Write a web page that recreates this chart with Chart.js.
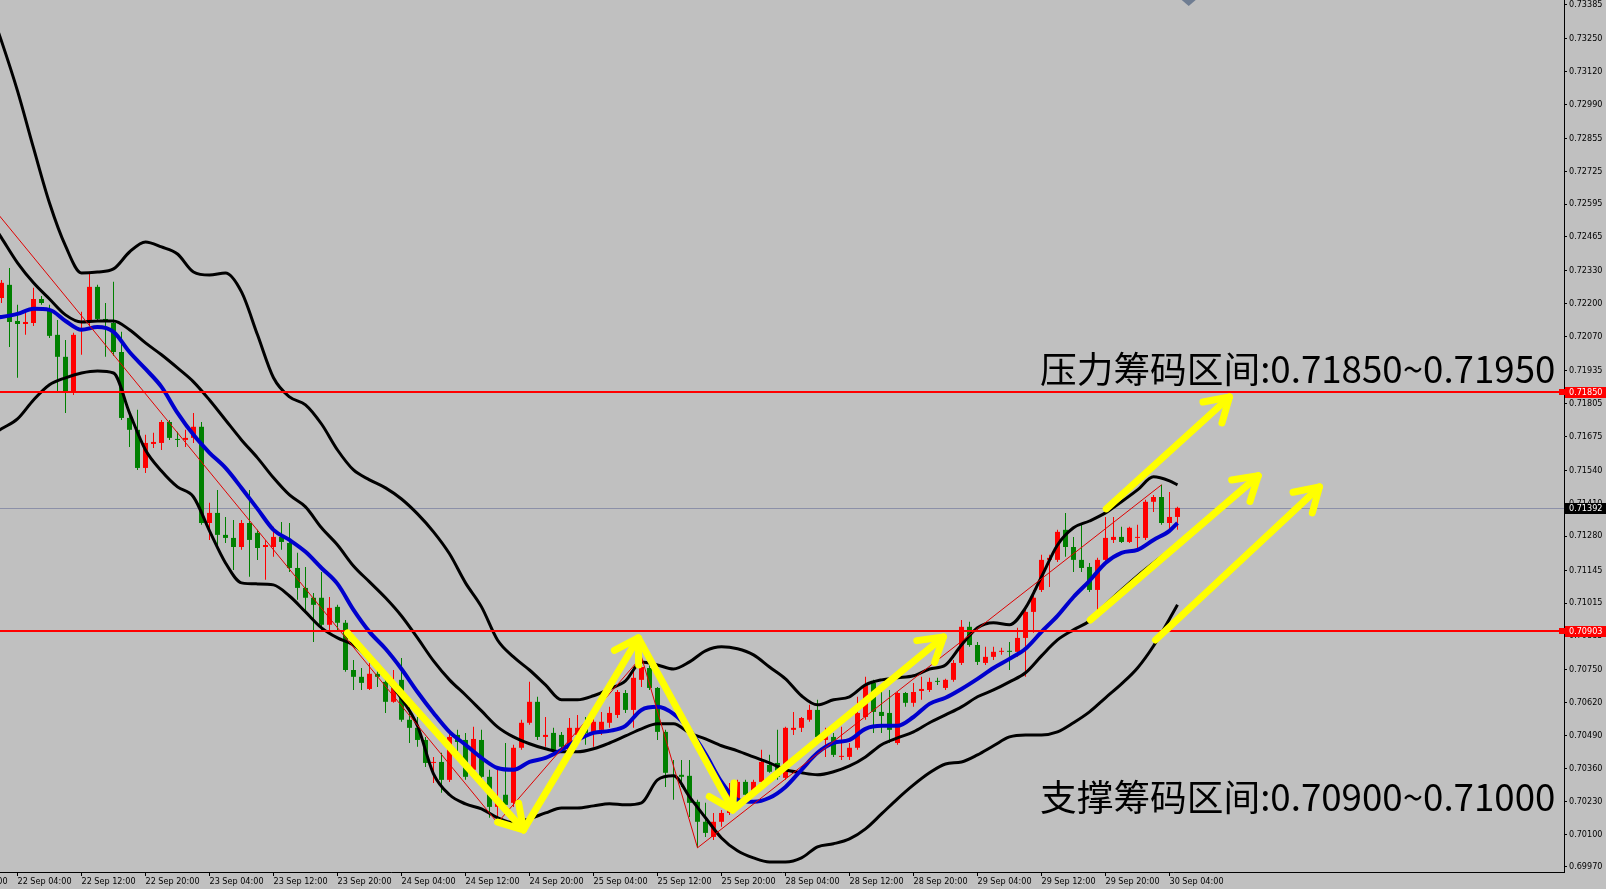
<!DOCTYPE html>
<html><head><meta charset="utf-8">
<script src="https://cdn.jsdelivr.net/npm/chart.js@4.4.0/dist/chart.umd.min.js"></script>
<style>
html,body{margin:0;padding:0;background:#c0c0c0;overflow:hidden;}
#wrap{position:relative;width:1606px;height:889px;}
canvas{position:absolute;left:0;top:0;}
.note{position:absolute;left:1040px;font-family:'Noto Sans CJK SC',sans-serif;font-size:36.7px;line-height:36.7px;color:#000;white-space:nowrap;}
</style></head>
<body><div id="wrap"><canvas id="c" width="1606" height="889"></canvas>
<div class="note" style="top:349px">压力筹码区间:0.71850~0.71950</div>
<div class="note" style="top:777px">支撑筹码区间:0.70900~0.71000</div>
</div>
<script>
// hourly bar index: 0 = 22 Sep 00:00 (weekend skipped)
const FIRST_BAR = 2;
const opens = [
0.72223,0.72275,0.72132,0.72120,0.72124,0.72219,0.72176,0.72077,0.71990,0.71847,
0.72093,0.72128,0.72267,0.72140,0.72124,0.72009,0.71748,0.71701,0.71550,0.71645,
0.71649,0.71732,0.71665,0.71661,0.71669,0.71713,0.71332,0.71372,0.71285,0.71273,
0.71237,0.71332,0.71293,0.71237,0.71237,0.71277,0.71253,0.71154,0.71075,0.71036,
0.71036,0.70929,0.71000,0.70937,0.70750,0.70723,0.70675,0.70735,0.70703,0.70624,
0.70711,0.70553,0.70521,0.70473,0.70382,0.70386,0.70315,0.70493,0.70473,0.70355,
0.70473,0.70327,0.70208,0.70256,0.70224,0.70442,0.70541,0.70624,0.70485,0.70501,
0.70493,0.70426,0.70493,0.70533,0.70505,0.70513,0.70541,0.70572,0.70659,0.70592,
0.70711,0.70758,0.70679,0.70505,0.70335,0.70335,0.70331,0.70228,0.70149,0.70089,
0.70149,0.70184,0.70236,0.70307,0.70267,0.70307,0.70374,0.70382,0.70323,0.70513,
0.70521,0.70553,0.70592,0.70473,0.70485,0.70406,0.70406,0.70442,0.70564,0.70699,
0.70584,0.70580,0.70461,0.70659,0.70620,0.70667,0.70671,0.70707,0.70679,0.70711,
0.70778,0.70921,0.70849,0.70778,0.70802,0.70822,0.70826,0.70822,0.70877,0.70980,
0.71067,0.71186,0.71186,0.71305,0.71237,0.71186,0.71158,0.71067,0.71186,0.71265,
0.71277,0.71257,0.71273,0.71273,0.71416,0.71435,0.71332,0.71356];
const highs = [
0.72294,0.72342,0.72196,0.72176,0.72263,0.72231,0.72196,0.72136,0.72057,0.72085,
0.72168,0.72326,0.72275,0.72203,0.72287,0.72089,0.71780,0.71780,0.71681,0.71689,
0.71740,0.71740,0.71693,0.71701,0.71768,0.71732,0.71412,0.71463,0.71356,0.71344,
0.71344,0.71463,0.71305,0.71265,0.71317,0.71336,0.71332,0.71214,0.71158,0.71055,
0.71138,0.71039,0.71008,0.70948,0.70790,0.70758,0.70778,0.70758,0.70731,0.70750,
0.70798,0.70620,0.70564,0.70485,0.70406,0.70422,0.70501,0.70513,0.70501,0.70525,
0.70513,0.70355,0.70355,0.70461,0.70454,0.70553,0.70703,0.70644,0.70564,0.70521,
0.70505,0.70560,0.70572,0.70564,0.70592,0.70584,0.70604,0.70671,0.70671,0.70762,
0.70802,0.70790,0.70683,0.70513,0.70394,0.70394,0.70394,0.70236,0.70224,0.70184,
0.70196,0.70303,0.70315,0.70315,0.70315,0.70434,0.70414,0.70513,0.70525,0.70584,
0.70564,0.70612,0.70632,0.70521,0.70501,0.70525,0.70461,0.70644,0.70723,0.70711,
0.70683,0.70671,0.70663,0.70663,0.70699,0.70723,0.70719,0.70719,0.70715,0.70790,
0.70948,0.70941,0.70861,0.70842,0.70842,0.70838,0.70861,0.70917,0.70996,0.71067,
0.71206,0.71206,0.71305,0.71372,0.71277,0.71325,0.71174,0.71194,0.71356,0.71356,
0.71317,0.71317,0.71325,0.71424,0.71443,0.71483,0.71455,0.71396];
const lows = [
0.72203,0.72029,0.71907,0.72077,0.72112,0.72196,0.72065,0.71851,0.71768,0.71839,
0.71998,0.72112,0.72136,0.71990,0.71994,0.71740,0.71633,0.71542,0.71530,0.71629,
0.71621,0.71661,0.71633,0.71633,0.71649,0.71325,0.71265,0.71237,0.71253,0.71146,
0.71226,0.71119,0.71186,0.71107,0.71198,0.71226,0.71138,0.71028,0.70988,0.70861,
0.70901,0.70901,0.70901,0.70743,0.70671,0.70671,0.70671,0.70683,0.70580,0.70620,
0.70545,0.70461,0.70446,0.70366,0.70303,0.70264,0.70307,0.70422,0.70315,0.70347,
0.70315,0.70165,0.70145,0.70188,0.70208,0.70434,0.70533,0.70473,0.70446,0.70422,
0.70434,0.70426,0.70473,0.70454,0.70446,0.70493,0.70521,0.70560,0.70580,0.70521,
0.70683,0.70671,0.70473,0.70287,0.70236,0.70287,0.70168,0.70046,0.70089,0.70077,
0.70129,0.70176,0.70224,0.70248,0.70256,0.70303,0.70343,0.70315,0.70315,0.70493,
0.70505,0.70545,0.70473,0.70406,0.70406,0.70394,0.70394,0.70434,0.70553,0.70501,
0.70501,0.70461,0.70454,0.70604,0.70604,0.70632,0.70663,0.70691,0.70671,0.70703,
0.70770,0.70842,0.70770,0.70770,0.70790,0.70810,0.70750,0.70802,0.70723,0.70897,
0.71059,0.71079,0.71178,0.71198,0.71138,0.71138,0.71059,0.70988,0.71178,0.71253,
0.71253,0.71253,0.71226,0.71265,0.71376,0.71325,0.71305,0.71305];
const closes = [
0.72283,0.72128,0.72120,0.72128,0.72219,0.72203,0.72073,0.71990,0.71851,0.72077,
0.72104,0.72267,0.72140,0.72128,0.72009,0.71748,0.71701,0.71550,0.71649,0.71653,
0.71732,0.71669,0.71661,0.71669,0.71713,0.71332,0.71372,0.71285,0.71273,0.71237,
0.71332,0.71265,0.71233,0.71245,0.71277,0.71257,0.71154,0.71075,0.71036,0.71008,
0.70929,0.70996,0.70937,0.70750,0.70723,0.70699,0.70735,0.70723,0.70624,0.70679,
0.70553,0.70521,0.70473,0.70382,0.70386,0.70315,0.70485,0.70465,0.70327,0.70477,
0.70327,0.70208,0.70228,0.70216,0.70442,0.70541,0.70624,0.70485,0.70493,0.70434,
0.70446,0.70521,0.70521,0.70501,0.70545,0.70545,0.70580,0.70663,0.70592,0.70719,
0.70762,0.70679,0.70505,0.70343,0.70327,0.70327,0.70224,0.70149,0.70105,0.70149,
0.70184,0.70264,0.70307,0.70256,0.70307,0.70386,0.70347,0.70327,0.70521,0.70521,
0.70560,0.70592,0.70485,0.70501,0.70414,0.70410,0.70442,0.70580,0.70691,0.70584,
0.70568,0.70513,0.70659,0.70620,0.70663,0.70675,0.70703,0.70703,0.70711,0.70778,
0.70921,0.70849,0.70782,0.70802,0.70822,0.70826,0.70822,0.70877,0.70980,0.71036,
0.71186,0.71194,0.71297,0.71237,0.71186,0.71154,0.71067,0.71186,0.71273,0.71277,
0.71257,0.71313,0.71277,0.71416,0.71435,0.71332,0.71356,0.71392];

const lineIdx = [1,2,4,6,8,10,12,14,16,18,20,22,24,26,28,30,32,34,36,38,40,42,44,46,48,50,52,54,56,58,60,62,64,66,68,70,72,74,76,78,80,82,84,86,88,90,92,94,96,98,100,102,104,106,108,110,112,114,116,118,120,122,124,126,128,130,132,134,136,138,140,142,144,146,148,149];
const bbUpper = [0.73330,0.73240,0.73043,0.72817,0.72599,0.72429,0.72322,0.72326,0.72338,0.72405,0.72445,0.72425,0.72397,0.72326,0.72314,0.72322,0.72247,0.72077,0.71907,0.71831,0.71800,0.71724,0.71621,0.71542,0.71503,0.71471,0.71427,0.71368,0.71297,0.71210,0.71095,0.71000,0.70869,0.70802,0.70750,0.70691,0.70632,0.70632,0.70648,0.70675,0.70707,0.70782,0.70770,0.70754,0.70782,0.70826,0.70842,0.70834,0.70810,0.70762,0.70715,0.70648,0.70612,0.70632,0.70644,0.70691,0.70711,0.70719,0.70727,0.70754,0.70770,0.70849,0.70917,0.70937,0.70929,0.70996,0.71119,0.71245,0.71313,0.71340,0.71372,0.71416,0.71463,0.71515,0.71499,0.71483];
const bbMiddle = [0.72510,0.72461,0.72362,0.72283,0.72219,0.72156,0.72128,0.72132,0.72132,0.72097,0.72045,0.71998,0.71946,0.71891,0.71819,0.71740,0.71661,0.71590,0.71511,0.71443,0.71396,0.71313,0.71245,0.71162,0.71099,0.71036,0.70964,0.70877,0.70786,0.70711,0.70651,0.70588,0.70525,0.70485,0.70458,0.70438,0.70426,0.70426,0.70438,0.70461,0.70489,0.70517,0.70537,0.70537,0.70501,0.70477,0.70450,0.70430,0.70406,0.70382,0.70355,0.70343,0.70335,0.70347,0.70370,0.70406,0.70454,0.70481,0.70505,0.70541,0.70572,0.70604,0.70644,0.70671,0.70703,0.70739,0.70806,0.70869,0.70909,0.70944,0.71008,0.71067,0.71123,0.71174,0.71222,0.71245];
const bbLower = [0.71685,0.71705,0.71744,0.71819,0.71879,0.71907,0.71926,0.71934,0.71926,0.71768,0.71621,0.71538,0.71475,0.71435,0.71301,0.71174,0.71095,0.71091,0.71087,0.71043,0.70980,0.70917,0.70877,0.70849,0.70794,0.70719,0.70636,0.70529,0.70339,0.70256,0.70220,0.70200,0.70165,0.70145,0.70161,0.70184,0.70204,0.70204,0.70212,0.70220,0.70216,0.70224,0.70315,0.70331,0.70248,0.70165,0.70085,0.70034,0.70006,0.69990,0.69990,0.70006,0.70050,0.70062,0.70081,0.70121,0.70180,0.70240,0.70295,0.70343,0.70378,0.70386,0.70414,0.70450,0.70485,0.70493,0.70493,0.70505,0.70541,0.70584,0.70640,0.70695,0.70758,0.70845,0.70952,0.71008];
const maBlue = [0.72144,0.72148,0.72160,0.72180,0.72176,0.72132,0.72097,0.72108,0.72089,0.72009,0.71942,0.71871,0.71768,0.71681,0.71610,0.71550,0.71471,0.71388,0.71305,0.71265,0.71218,0.71154,0.71091,0.70988,0.70901,0.70834,0.70754,0.70663,0.70580,0.70505,0.70454,0.70402,0.70362,0.70355,0.70386,0.70402,0.70434,0.70473,0.70501,0.70509,0.70529,0.70592,0.70604,0.70576,0.70513,0.70418,0.70307,0.70236,0.70228,0.70244,0.70287,0.70355,0.70422,0.70461,0.70473,0.70517,0.70529,0.70529,0.70564,0.70616,0.70640,0.70675,0.70715,0.70758,0.70794,0.70834,0.70901,0.70964,0.71039,0.71103,0.71174,0.71214,0.71226,0.71265,0.71301,0.71332];

const zigzagIdx = [-4, 64, 82, 89, 147];
const zigzagVal = [0.72770, 0.70145, 0.70802, 0.70046, 0.71483];

const xTickIdx = [-4,4,12,20,28,36,44,52,60,68,76,84,92,100,108,116,124,132,140,148];
const xTickLabels = ['21 Sep 20:00','22 Sep 04:00','22 Sep 12:00','22 Sep 20:00','23 Sep 04:00','23 Sep 12:00','23 Sep 20:00','24 Sep 04:00','24 Sep 12:00','24 Sep 20:00','25 Sep 04:00','25 Sep 12:00','25 Sep 20:00','28 Sep 04:00','28 Sep 12:00','28 Sep 20:00','29 Sep 04:00','29 Sep 12:00','29 Sep 20:00','30 Sep 04:00'];
const yTickLabels = ['0.73385','0.73250','0.73120','0.72990','0.72855','0.72725','0.72595','0.72465','0.72330','0.72200','0.72070','0.71935','0.71805','0.71675','0.71540','0.71410','0.71280','0.71145','0.71015','0.70885','0.70750','0.70620','0.70490','0.70360','0.70230','0.70100','0.69970'];

const redLevels = [0.71850, 0.70903];
const bidLevel = 0.71392;
const priceBoxVals = [0.71850, 0.70903, 0.71392];
const priceBoxColors = ['#ff0000', '#ff0000', '#000000'];

const arrowFromIdx = [45.25, 67.25, 81.6, 93.4, 140.1, 138.1, 146.25];
const arrowFromVal = [0.70897, 0.70117, 0.70877, 0.70196, 0.71388, 0.70948, 0.70869];
const arrowToIdx   = [67.25, 81.6, 93.4, 119.75, 155.5, 159.1, 166.75];
const arrowToVal   = [0.70117, 0.70877, 0.70196, 0.70881, 0.71831, 0.71519, 0.71475];

const markerIdx = 150.4;

const X_MIN = 1.8125, X_MAX = 197.3125;
const Y_MIN = 0.699502, Y_MAX = 0.734028;

const FONT = {family: "'DejaVu Sans Condensed','DejaVu Sans',sans-serif", size: 9};

const barX = opens.map((_, k) => FIRST_BAR + k);
const candleColors = closes.map((c, k) => c >= opens[k] ? '#ff0000' : '#008000');
const pts = arr => lineIdx.map((x, k) => ({x, y: arr[k]}));

const overlay = {
  id: 'overlay',
  beforeDraw(chart) {
    const c = chart.ctx; c.save(); c.fillStyle = '#c0c0c0'; c.fillRect(0, 0, chart.width, chart.height); c.restore();
  },
  beforeDatasetsDraw(chart) {
    const {ctx, chartArea: a, scales: {y}} = chart;
    ctx.save();
    const yb = Math.round(y.getPixelForValue(bidLevel)) + 0.5;
    ctx.strokeStyle = '#8c90a8'; ctx.lineWidth = 1;
    ctx.beginPath(); ctx.moveTo(a.left, yb); ctx.lineTo(a.right, yb); ctx.stroke();
    ctx.restore();
  },
  afterDatasetsDraw(chart) {
    const {ctx, chartArea: a, scales: {x, y}} = chart;
    ctx.save();
    ctx.beginPath(); ctx.rect(a.left, a.top, a.right - a.left, a.bottom - a.top); ctx.clip();
    ctx.strokeStyle = '#ff0000'; ctx.lineWidth = 2;
    redLevels.forEach(v => {
      const yy = Math.round(y.getPixelForValue(v));
      ctx.beginPath(); ctx.moveTo(a.left, yy); ctx.lineTo(a.right, yy); ctx.stroke();
    });
    ctx.strokeStyle = '#ffff00'; ctx.lineWidth = 7; ctx.lineCap = 'round'; ctx.lineJoin = 'round';
    for (let k = 0; k < arrowFromIdx.length; k++) {
      const x0 = x.getPixelForValue(arrowFromIdx[k]), y0 = y.getPixelForValue(arrowFromVal[k]);
      const x1 = x.getPixelForValue(arrowToIdx[k]), y1 = y.getPixelForValue(arrowToVal[k]);
      ctx.beginPath(); ctx.moveTo(x0, y0); ctx.lineTo(x1, y1); ctx.stroke();
      const ang = Math.atan2(y1 - y0, x1 - x0), L = 27, sp = 0.55;
      ctx.beginPath();
      ctx.moveTo(x1 - L * Math.cos(ang - sp), y1 - L * Math.sin(ang - sp));
      ctx.lineTo(x1, y1);
      ctx.lineTo(x1 - L * Math.cos(ang + sp), y1 - L * Math.sin(ang + sp));
      ctx.stroke();
    }
    // small grey object marker at the top edge
    const mx = x.getPixelForValue(markerIdx);
    ctx.fillStyle = '#6f7d92';
    ctx.beginPath(); ctx.moveTo(mx - 7, a.top); ctx.lineTo(mx + 7, a.top); ctx.lineTo(mx, a.top + 6); ctx.closePath(); ctx.fill();
    ctx.restore();
  },
  afterDraw(chart) {
    const {ctx, chartArea: a, scales: {y}} = chart;
    ctx.save();
    ctx.font = "9px 'DejaVu Sans Condensed','DejaVu Sans',sans-serif";
    ctx.textBaseline = 'middle'; ctx.textAlign = 'left';
    priceBoxVals.forEach((v, k) => {
      const yy = Math.round(y.getPixelForValue(v));
      ctx.fillStyle = priceBoxColors[k];
      ctx.fillRect(a.right + 1, yy - 5, chart.width - a.right - 1, 11);
      if (k < 2) ctx.fillRect(a.right - 5, yy - 3, 6, 6);
      ctx.fillStyle = '#ffffff';
      ctx.fillText(v.toFixed(5), a.right + 5, yy + 0.5);
    });
    ctx.restore();
  }
};

new Chart(document.getElementById('c'), {
  type: 'bar',
  data: {
    datasets: [
      {type: 'line', label: 'ZigZag', data: zigzagIdx.map((x, k) => ({x, y: zigzagVal[k]})), borderColor: '#e00000', borderWidth: 1, pointRadius: 0, tension: 0, order: 0},
      {type: 'line', label: 'MA', data: pts(maBlue), borderColor: '#0000cd', borderWidth: 4, pointRadius: 0, cubicInterpolationMode: 'monotone', order: 1},
      {type: 'line', label: 'BB upper', data: pts(bbUpper), borderColor: '#000', borderWidth: 3, pointRadius: 0, cubicInterpolationMode: 'monotone', order: 2},
      {type: 'line', label: 'BB middle', data: pts(bbMiddle), borderColor: '#000', borderWidth: 3, pointRadius: 0, cubicInterpolationMode: 'monotone', order: 2},
      {type: 'line', label: 'BB lower', data: pts(bbLower), borderColor: '#000', borderWidth: 3, pointRadius: 0, cubicInterpolationMode: 'monotone', order: 2},
      {type: 'bar', label: 'body', data: barX.map((x, k) => ({x, y: [opens[k], closes[k]]})), backgroundColor: candleColors, barThickness: 5, grouped: false, minBarLength: 1, borderWidth: 0, inflateAmount: 0, order: 8},
      {type: 'bar', label: 'wick', data: barX.map((x, k) => ({x, y: [lows[k], highs[k]]})), backgroundColor: candleColors, barThickness: 1, grouped: false, borderWidth: 0, inflateAmount: 0, order: 9}
    ]
  },
  options: {
    responsive: false, animation: false, devicePixelRatio: 1, events: [],
    layout: {padding: 0},
    plugins: {legend: {display: false}, tooltip: {enabled: false}},
    scales: {
      x: {
        type: 'linear', min: X_MIN, max: X_MAX, offset: false,
        grid: {display: true, drawOnChartArea: false, drawTicks: true, tickLength: 4, color: '#000', offset: false},
        border: {display: true, color: '#000', width: 1},
        ticks: {autoSkip: false, maxRotation: 0, minRotation: 0, align: 'start', padding: 0, color: '#000', font: FONT,
          callback: (v) => xTickLabels[xTickIdx.indexOf(v)]},
        afterBuildTicks: s => { s.ticks = xTickIdx.map(v => ({value: v})); },
        afterFit: s => { s.height = 17; s.paddingLeft = 0; s.paddingRight = 0; }
      },
      y: {
        type: 'linear', position: 'right', min: Y_MIN, max: Y_MAX, beginAtZero: false,
        grid: {display: true, drawOnChartArea: false, drawTicks: true, tickLength: 3, color: '#000'},
        border: {display: true, color: '#000', width: 1},
        ticks: {autoSkip: false, padding: 2, color: '#000', font: FONT,
          callback: (v, i) => yTickLabels[i]},
        afterBuildTicks: s => { s.ticks = yTickLabels.map(t => ({value: parseFloat(t)})); },
        afterFit: s => { s.width = 42; s.paddingTop = 0; s.paddingBottom = 0; }
      }
    }
  },
  plugins: [overlay]
});
</script>
</body></html>
